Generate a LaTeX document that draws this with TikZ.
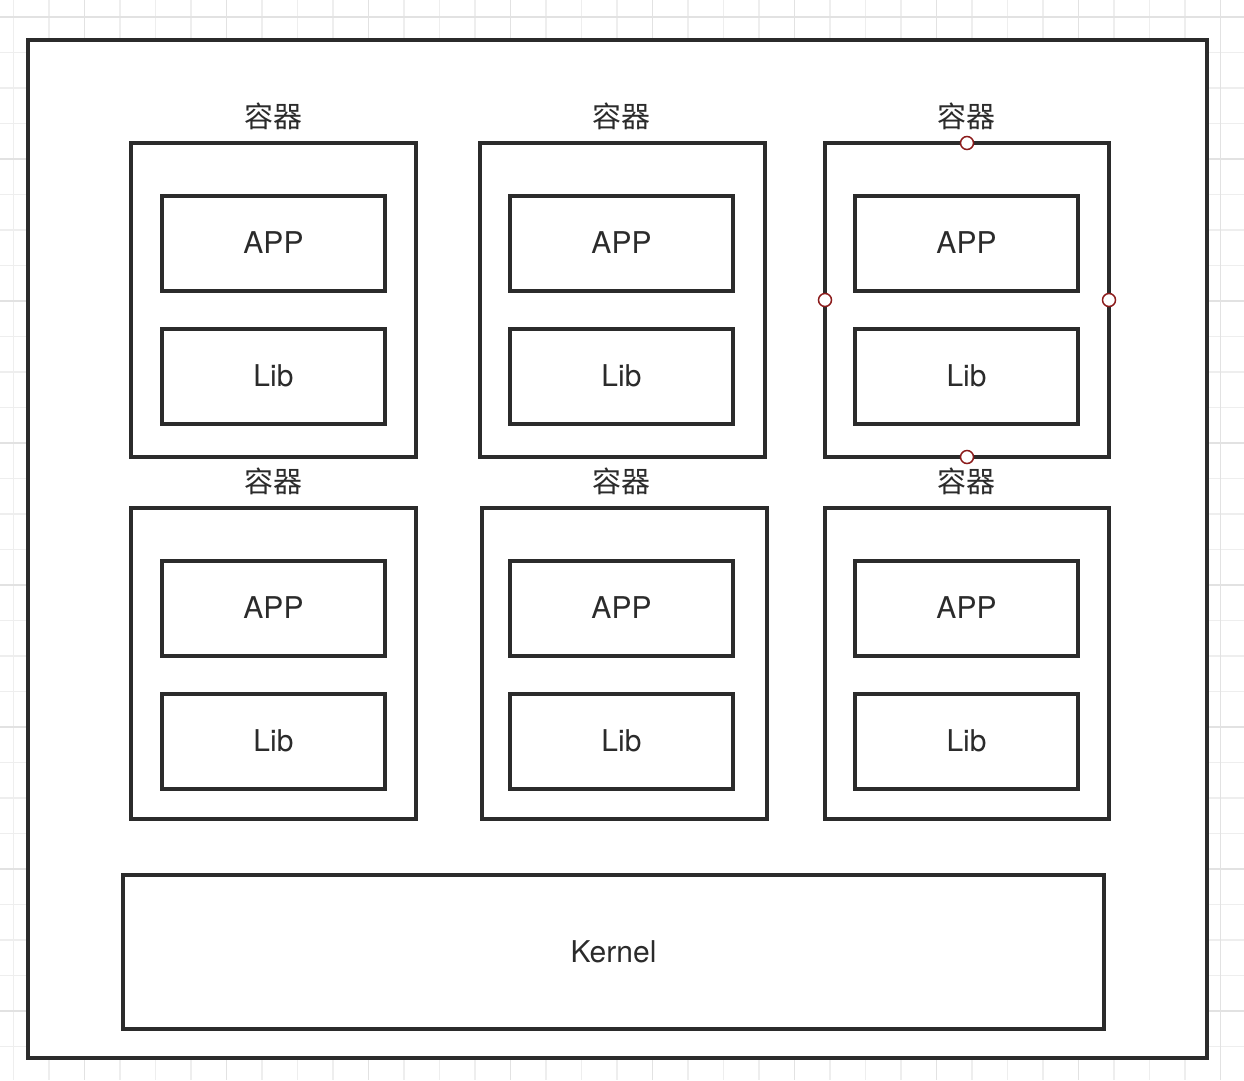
\documentclass[tikz,border=0pt]{standalone}
\usepackage{fontspec}
\setmainfont{TeX Gyre Heros}
\newfontfamily\cjk{Noto Sans CJK SC}
\definecolor{ink}{HTML}{2B2B2B}
\definecolor{gridminor}{HTML}{EEEEEE}
\definecolor{gridmajor}{HTML}{E2E2E2}
\definecolor{handle}{HTML}{8B1A1A}
\tikzset{
  box/.style={draw=ink, line width=4pt, fill=white, inner sep=0pt, outer sep=0pt},
  lbl/.style={text=ink, font=\fontsize{30}{36}\selectfont, inner sep=0pt},
  clbl/.style={text=ink, font=\cjk\fontsize{29}{34}\selectfont, inner sep=0pt},
  hdl/.style={circle, draw=handle, fill=white, line width=1.5pt, minimum size=13pt, inner sep=0pt}
}
\begin{document}
\begin{tikzpicture}[x=1pt,y=-1pt]
\useasboundingbox (0,0) rectangle (1244,1080);
\fill[white] (0,0) rectangle (1244,1080);
% grid
\foreach \i in {0,...,35} {
  \draw[gridminor, line width=1.5pt] ({13.5+35.5*\i},0) -- ({13.5+35.5*\i},1080);
  \draw[gridminor, line width=1.5pt] (0,{17+35.5*\i}) -- (1244,{17+35.5*\i});
}
\foreach \i in {0,...,8} {
  \draw[gridmajor, line width=1.8pt] ({84.5+142*\i},0) -- ({84.5+142*\i},1080);
  \draw[gridmajor, line width=1.8pt] (0,{17+142*\i}) -- (1244,{17+142*\i});
}
% outer box
\draw[box] (28,40) rectangle (1207,1058);
% containers
\newcommand{\cont}[6]{% name, x1, y1, x2, y2, inner centre x
  \node[box, minimum width={#4-#2}, minimum height={#5-#3}, anchor=north west] (#1) at (#2,#3) {};
  \node[clbl] (#1t) at (#6,{#3-27}) {容器};
  \node[box, minimum width=223pt, minimum height=95pt] (#1a) at (#6,{#3+100}) {};
  \node[lbl] at (#1a) {APP};
  \node[box, minimum width=223pt, minimum height=95pt] (#1l) at (#6,{#3+233}) {};
  \node[lbl] at (#1l) {Lib};
}
\cont{c1}{131}{143}{416}{457}{273.5}
\cont{c2}{480}{143}{765}{457}{621.5}
\cont{c3}{825}{143}{1109}{457}{966.5}
\cont{c4}{131}{508}{416}{819}{273.5}
\cont{c5}{482}{508}{767}{819}{621.5}
\cont{c6}{825}{508}{1109}{819}{966.5}
% kernel
\node[box, minimum width=981pt, minimum height=154pt, anchor=north west] (kern) at (123,875) {};
\node[lbl] at (kern) {Kernel};
% selection handles
\node[hdl] (h1) at (c3.north) {};
\node[hdl] (h2) at (c3.south) {};
\node[hdl] (h3) at (c3.west) {};
\node[hdl] (h4) at (c3.east) {};
\end{tikzpicture}
\end{document}
